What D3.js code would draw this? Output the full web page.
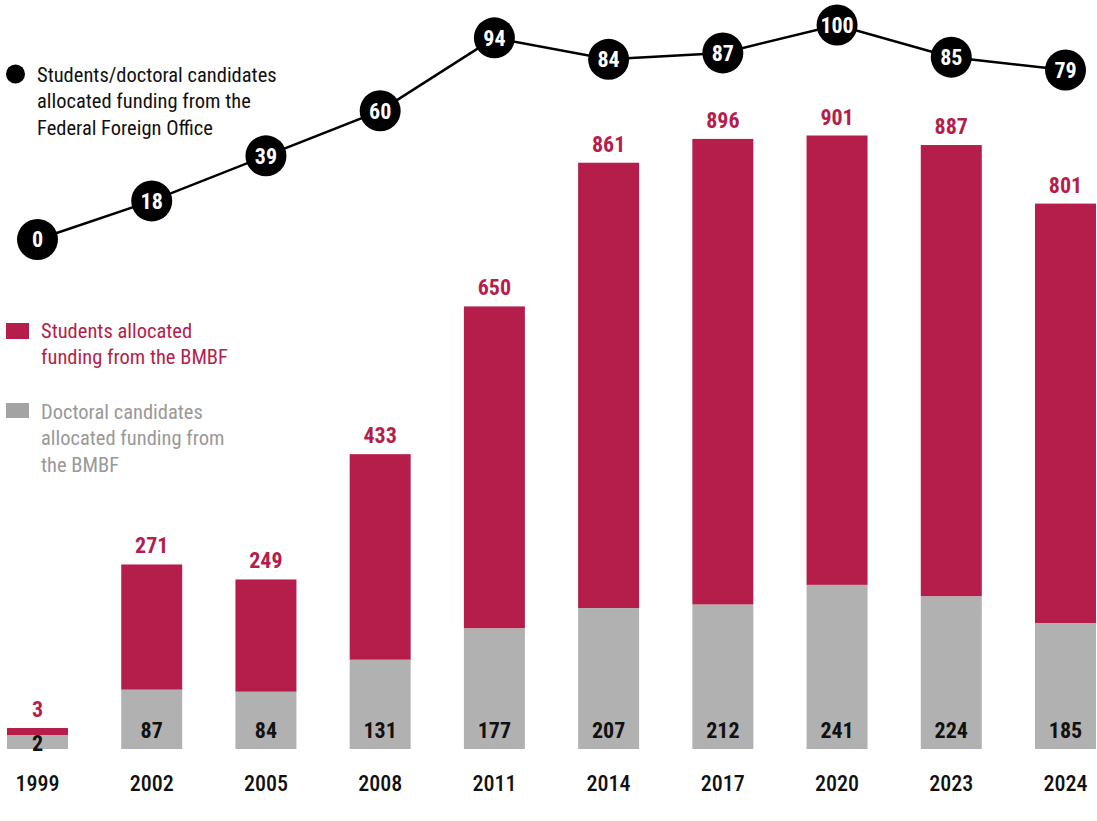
<!DOCTYPE html>
<html>
<head>
<meta charset="utf-8">
<script src="https://cdn.jsdelivr.net/npm/d3@7"></script>
<style>
  html, body { margin: 0; padding: 0; background: #fff; }
  svg { display: block; }
  text { font-family: "Roboto Condensed", "Liberation Sans Narrow", "DejaVu Sans Condensed", "Arial Narrow", sans-serif; font-stretch: condensed; }
</style>
</head>
<body>
<svg id="chart" width="1097" height="822"></svg>
<script>
// Funding figures per year
const years = ["1999", "2002", "2005", "2008", "2011", "2014", "2017", "2020", "2023", "2024"];
// total bar height (students + doctoral candidates, BMBF)
const bmbfTotal = [3, 271, 249, 433, 650, 861, 896, 901, 887, 801];
// doctoral candidates, BMBF (grey base segment)
const doctoral = [2, 87, 84, 131, 177, 207, 212, 241, 224, 185];
// students/doctoral candidates, Federal Foreign Office (line)
const foreignOffice = [0, 18, 39, 60, 94, 84, 87, 100, 85, 79];

const legendLine = ["Students/doctoral candidates", "allocated funding from the", "Federal Foreign Office"];
const legendStudents = ["Students allocated", "funding from the BMBF"];
const legendDoctoral = ["Doctoral candidates", "allocated funding from", "the BMBF"];

const RED = "#b51e4b";
const GREY = "#b1b1b1";

const svg = d3.select("#chart");

const x = d3.scaleBand().domain(years).range([7, 1096]).paddingInner(0.466).paddingOuter(0);
const y = d3.scaleLinear().domain([0, 1100]).range([749, 0]);
const yLine = d3.scaleLinear().domain([0, 100]).range([239.5, 25]);

// very small segments keep a visible minimum height
const minDocPx = 14;
const minStudPx = 7;

const rows = years.map((yr, i) => ({ yr, total: bmbfTotal[i], doc: doctoral[i], ff: foreignOffice[i] }));
rows.forEach(d => {
  d.docTop = Math.min(y(d.doc), y(0) - minDocPx);
  d.totTop = Math.min(d.docTop - (y(d.doc) - y(d.total)), d.docTop - minStudPx);
});

const g = svg.append("g");

g.selectAll("rect.red").data(rows).join("rect")
  .attr("class", "red")
  .attr("x", d => x(d.yr)).attr("width", x.bandwidth())
  .attr("y", d => d.totTop).attr("height", d => d.docTop - d.totTop)
  .attr("fill", RED);

g.selectAll("rect.grey").data(rows).join("rect")
  .attr("class", "grey")
  .attr("x", d => x(d.yr)).attr("width", x.bandwidth())
  .attr("y", d => d.docTop).attr("height", d => y(0) - d.docTop)
  .attr("fill", GREY);

const cx = d => x(d.yr) + x.bandwidth() / 2;

// total labels above bars
g.selectAll("text.tot").data(rows).join("text")
  .attr("class", "tot")
  .attr("x", cx).attr("y", d => d.totTop - 11)
  .attr("text-anchor", "middle")
  .attr("fill", RED).attr("font-size", 22).attr("font-weight", 700)
  .text(d => d.total);

// doctoral labels inside grey base (dropped lower when the base is a sliver)
g.selectAll("text.doc").data(rows).join("text")
  .attr("class", "doc")
  .attr("x", cx).attr("y", d => Math.max(738, d.docTop + 16))
  .attr("text-anchor", "middle")
  .attr("fill", "#111").attr("font-size", 22).attr("font-weight", 700)
  .text(d => d.doc);

// year axis
const xAxis = svg.append("g").attr("transform", "translate(0,791)")
  .call(d3.axisBottom(x).tickSize(0).tickPadding(0));
xAxis.select(".domain").remove();
xAxis.selectAll("text")
  .attr("dy", 0).attr("y", 0)
  .attr("fill", "#111").attr("font-size", 22).attr("font-weight", 500);
xAxis.attr("font-family", null).attr("font-size", null);

// bottom rule
svg.append("line").attr("x1", 0).attr("x2", 1097).attr("y1", 821.5).attr("y2", 821.5)
  .attr("stroke", "#e9c5d0").attr("stroke-width", 1);

// Federal Foreign Office line
const line = d3.line().x(cx).y(d => yLine(d.ff));
svg.append("path").datum(rows).attr("d", line)
  .attr("fill", "none").attr("stroke", "#000").attr("stroke-width", 2.5);

const pts = svg.append("g").selectAll("g").data(rows).join("g")
  .attr("transform", d => `translate(${cx(d)},${yLine(d.ff)})`);
pts.append("circle").attr("r", 20.5).attr("fill", "#000");
pts.append("text").attr("text-anchor", "middle").attr("dy", "0.36em")
  .attr("fill", "#fff").attr("font-size", 22).attr("font-weight", 700)
  .text(d => d.ff);

// legend
const leg = svg.append("g");
leg.append("circle").attr("cx", 15.5).attr("cy", 74).attr("r", 9.5).attr("fill", "#000");
leg.append("text").attr("x", 37).attr("y", 81.5).attr("font-size", 20.5).attr("fill", "#111")
  .selectAll("tspan").data(legendLine).join("tspan")
  .attr("x", 37).attr("dy", (d, i) => i ? 26.5 : 0).text(d => d);

leg.append("rect").attr("x", 6).attr("y", 323).attr("width", 23).attr("height", 16).attr("fill", RED);
leg.append("text").attr("x", 41).attr("y", 337.5).attr("font-size", 20.5).attr("fill", RED)
  .selectAll("tspan").data(legendStudents).join("tspan")
  .attr("x", 41).attr("dy", (d, i) => i ? 26.5 : 0).text(d => d);

leg.append("rect").attr("x", 6).attr("y", 403).attr("width", 23).attr("height", 15).attr("fill", "#a3a3a3");
leg.append("text").attr("x", 41).attr("y", 418.5).attr("font-size", 20.5).attr("fill", "#999")
  .selectAll("tspan").data(legendDoctoral).join("tspan")
  .attr("x", 41).attr("dy", (d, i) => i ? 26.5 : 0).text(d => d);
</script>
</body>
</html>
